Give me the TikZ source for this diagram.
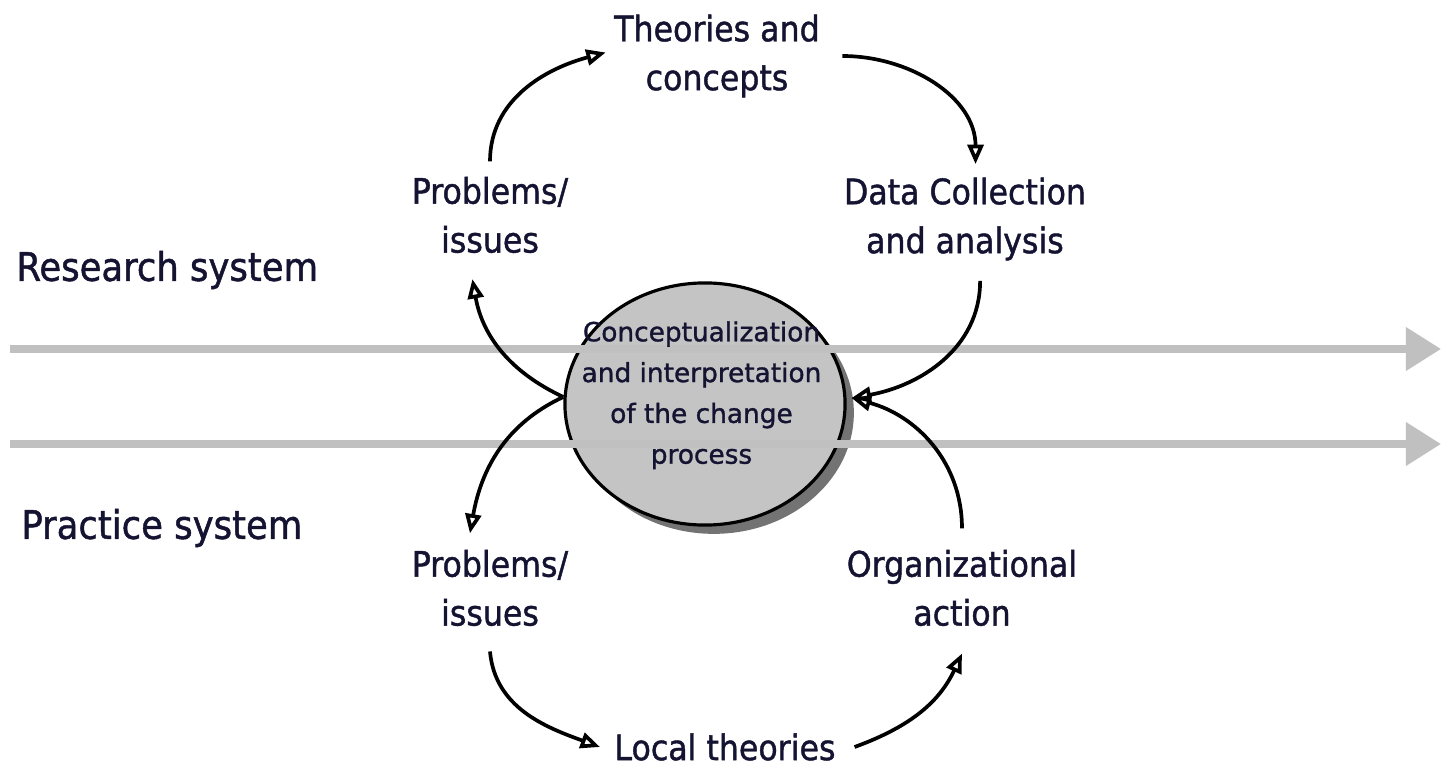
\documentclass[tikz,border=0pt]{standalone}
\usepackage{fontspec}
\setmainfont{DejaVu Sans Condensed}[FakeBold=1.2]
\newfontfamily\discfont{DejaVu Sans}[FakeBold=1.2]
\usepackage{tikz}
\usetikzlibrary{arrows.meta, shapes.geometric, shadows}
\definecolor{inkblue}{RGB}{20,20,50}
\definecolor{bandgray}{RGB}{192,192,192}
\definecolor{discgray}{RGB}{196,196,196}
\tikzset{
    lbl/.style={inner sep=0pt, align=center, text=inkblue, font=\fontsize{10}{13.9}\selectfont},
    syslbl/.style={inner sep=0pt, anchor=west, text=inkblue, font=\fontsize{11.2}{13}\selectfont},
    flow/.style={-{Triangle[open, length=5.5pt, width=4.5pt]}, line width=1.05pt, color=black},
    band/.style={-{Triangle[length=10pt, width=12pt]}, line width=2pt, color=bandgray},
}

\begin{document}
\begin{tikzpicture}[x=0.01cm, y=0.01cm, line width=.85pt]
    \useasboundingbox (0,0) rectangle (1441,766);

    % Scheibe.
    \node[ellipse, draw=black, line width=.9pt, fill=discgray, minimum width=2.8cm, minimum height=2.42cm, inner sep=0pt,
          drop shadow={shadow xshift=2.5pt, shadow yshift=-2.5pt, fill=black!55, opacity=1}] (ch) at (705,362) {};

    % Systeme.
    \draw[band] (10,417) -- (1441,417);
    \draw[band] (10,322) -- (1441,322);

    \node[lbl, font=\discfont\fontsize{7.5}{11.6}\selectfont] (cht) at ([xshift=-1pt, yshift=2.5pt]ch.center)
        {Conceptualization\\and interpretation\\of the change\\process};

    % Beschriftung.
    \node[lbl] (tc) at (717,710) {Theories and\\concepts};
    \node[lbl] (rp) at (490,551) {Problems/\\issues};
    \node[lbl] (dc) at (965,547) {Data Collection\\and analysis};
    \node[lbl] (pp) at (490,178) {Problems/\\issues};
    \node[lbl] (oa) at (962,178) {Organizational\\action};
    \node[lbl] (lt) at (725,19) {Local theories};

    \node[syslbl] (rs) at (15,496) {Research system};
    \node[syslbl] (ps) at (20,238) {Practice system};

    % Pfeile.
    \draw[flow] ([yshift=4pt]rp.north) to[out=90, in=195] ([xshift=-2pt, yshift=1pt]tc.west);
    \draw[flow] ([xshift=6pt]tc.east) to[out=0, in=90] ([xshift=3pt, yshift=3.4pt]dc.north);
    \draw[flow] ([xshift=4.3pt, yshift=-5.4pt]dc.south) to[out=270, in=10] ([xshift=1.4pt, yshift=1.7pt]ch.east);
    \draw[flow] ([yshift=5.7pt]oa.north) to[out=90, in=-15] ([xshift=1.4pt, yshift=1.7pt]ch.east);

    \draw[flow] ([yshift=2pt]ch.west) to[out=155, in=-80] ([xshift=-5pt, yshift=-7pt]rp.south);
    \draw[flow] ([yshift=2pt]ch.west) to[out=205, in=80] ([xshift=-5.7pt, yshift=4.3pt]pp.north);

    \draw[flow] ([yshift=-6.8pt]pp.south) to[out=-85, in=160] ([xshift=-3.7pt]lt.west);
    \draw[flow] ([xshift=5pt]lt.east) to[out=20, in=-115] ([yshift=-7.4pt]oa.south);
\end{tikzpicture}
\end{document}
